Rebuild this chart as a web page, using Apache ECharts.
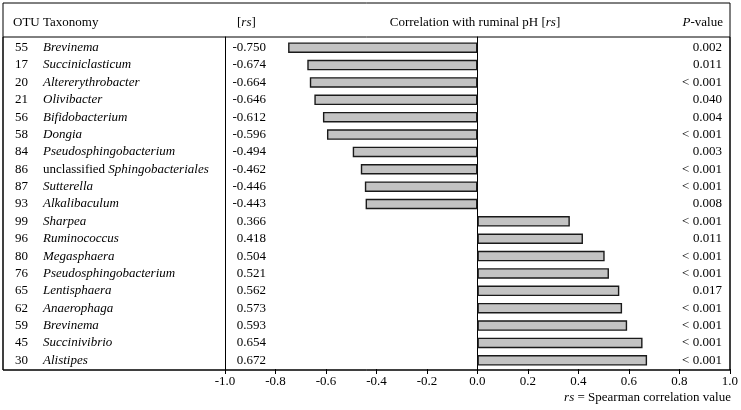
<!DOCTYPE html>
<html>
<head>
<meta charset="utf-8">
<script src="https://cdn.jsdelivr.net/npm/echarts@6/dist/echarts.min.js"></script>
<style>html,body{margin:0;padding:0;background:#fff}#c{width:741px;height:410px}</style>
</head>
<body>
<div id="c"></div>
<script>
var otu = ['55','17','20','21','56','58','84','86','87','93','99','96','80','76','65','62','59','45','30'];
var taxa = ['Brevinema','Succiniclasticum','Altererythrobacter','Olivibacter','Bifidobacterium','Dongia','Pseudosphingobacterium','unclassified Sphingobacteriales','Sutterella','Alkalibaculum','Sharpea','Ruminococcus','Megasphaera','Pseudosphingobacterium','Lentisphaera','Anaerophaga','Brevinema','Succinivibrio','Alistipes'];
var rs = [-0.750,-0.674,-0.664,-0.646,-0.612,-0.596,-0.494,-0.462,-0.446,-0.443,0.366,0.418,0.504,0.521,0.562,0.573,0.593,0.654,0.672];
var pvals = ['0.002','0.011','< 0.001','0.040','0.004','< 0.001','0.003','< 0.001','< 0.001','0.008','< 0.001','0.011','< 0.001','< 0.001','0.017','< 0.001','< 0.001','< 0.001','< 0.001'];
var xTicks = {min:-1, max:1, interval:0.2};

var FF = '"Liberation Serif", "Times New Roman", serif';
var FS = 13;
var base = {fontFamily: FF, fontSize: FS, color: '#000'};
function st(o){ var r = {}; for (var k in base) r[k] = base[k]; for (var k2 in o) r[k2] = o[k2]; return r; }
var richIt = {i: st({fontStyle:'italic'}), n: st({})};

var rsLabels = rs.map(function(v){ return v.toFixed(3); });
var taxaFmt = function(v){
  if (v.indexOf('unclassified ') === 0) return '{n|unclassified }{i|' + v.slice(13) + '}';
  return '{i|' + v + '}';
};
function textAxis(grid, pos, data, align, margin, fmt, rich){
  return {
    type:'category', gridIndex:grid, position:pos, inverse:true, data:data,
    axisLine:{show:false}, axisTick:{show:false}, splitLine:{show:false},
    axisLabel:{show:true, interval:0, align:align, margin:margin, fontFamily:FF, fontSize:FS, color:'#000',
      formatter: fmt, rich: rich}
  };
}

var chart = echarts.init(document.getElementById('c'), null, {renderer:'canvas'});
chart.setOption({
  animation:false,
  backgroundColor:'#fff',
  grid:[
    {left:3, top:3, right:11, bottom:40, show:true, borderColor:'#000', borderWidth:1, backgroundColor:'transparent'},
    {left:3, top:37, right:11, bottom:40, show:true, borderColor:'#000', borderWidth:1, backgroundColor:'transparent'},
    {left:225, top:39, right:11, bottom:41},
    {left:225, top:37, right:11, bottom:40}
  ],
  xAxis:[
    {type:'value', gridIndex:0, show:false},
    {type:'value', gridIndex:1, show:false},
    {type:'value', gridIndex:2, min:xTicks.min, max:xTicks.max, interval:xTicks.interval, position:'bottom',
      axisLine:{show:false}, splitLine:{show:false},
      axisTick:{show:true, inside:false, length:5, lineStyle:{color:'#000', width:1}},
      axisLabel:{show:true, margin:6, fontFamily:FF, fontSize:FS, color:'#000',
        formatter:function(v){ return (Math.abs(v) < 1e-9 ? 0 : v).toFixed(1); }}},
    {type:'value', gridIndex:3, min:xTicks.min, max:xTicks.max, show:false}
  ],
  yAxis:[
    {type:'value', gridIndex:0, show:false},
    {type:'value', gridIndex:1, show:false},
    textAxis(2, 'left', otu, 'left', 210, null, null),
    textAxis(2, 'left', taxa, 'left', 182, taxaFmt, richIt),
    textAxis(2, 'left', rsLabels, 'right', -41, null, null),
    textAxis(2, 'right', pvals, 'right', -8, null, null),
    {type:'category', gridIndex:3, inverse:true, data:otu, position:'left',
      axisLine:{show:true, onZero:true, lineStyle:{color:'#000', width:1}},
      axisTick:{show:false}, axisLabel:{show:false}, splitLine:{show:false}},
    {type:'category', gridIndex:3, inverse:true, data:otu, position:'left',
      axisLine:{show:true, onZero:false, lineStyle:{color:'#000', width:1}},
      axisTick:{show:false}, axisLabel:{show:false}, splitLine:{show:false}}
  ],
  series:[
    {type:'bar', xAxisIndex:2, yAxisIndex:2, data:rs, barWidth:10.5,
      itemStyle:{color:'#c3c3c3', borderColor:'#1a1a1a', borderWidth:1.4},
      silent:true}
  ],
  graphic:[
    {type:'text', style:{x:13, y:23, text:'OTU', font: FS+'px '+FF, fill:'#000', textVerticalAlign:'middle'}},
    {type:'text', style:{x:43, y:23, text:'Taxonomy', font: FS+'px '+FF, fill:'#000', textVerticalAlign:'middle'}},
    {type:'text', style:{x:237, y:23, text:'[{i|rs}]', rich:richIt, font: FS+'px '+FF, fill:'#000', textVerticalAlign:'middle'}},
    {type:'text', style:{x:475, y:23, text:'Correlation with ruminal pH [{i|rs}]', rich:richIt, font: FS+'px '+FF, fill:'#000', textAlign:'center', textVerticalAlign:'middle'}},
    {type:'text', style:{x:723, y:23, text:'{i|P}-value', rich:richIt, font: FS+'px '+FF, fill:'#000', textAlign:'right', textVerticalAlign:'middle'}},
    {type:'text', style:{x:731, y:398, text:'{i|rs} = Spearman correlation value', rich:richIt, font: FS+'px '+FF, fill:'#000', textAlign:'right', textVerticalAlign:'middle'}}
  ]
});
</script>
</body>
</html>
